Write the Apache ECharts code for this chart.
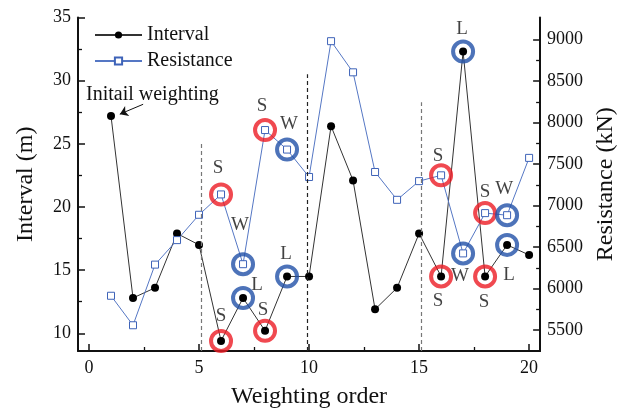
<!DOCTYPE html>
<html>
<head>
<meta charset="utf-8">
<script src="https://cdn.jsdelivr.net/npm/echarts@6/dist/echarts.min.js"></script>
<style>
  html, body { margin: 0; padding: 0; background: #fff; }
  #chart { width: 626px; height: 414px; }
</style>
</head>
<body>
<div id="chart"></div>
<script>
// weighting order 1..20
const orders = [1, 2, 3, 4, 5, 6, 7, 8, 9, 10, 11, 12, 13, 14, 15, 16, 17, 18, 19, 20];
const interval = [27.2, 12.8, 13.6, 17.9, 17.0, 9.4, 12.8, 10.2, 14.5, 14.5, 26.4, 22.1, 11.9, 13.6, 17.9, 14.5, 32.3, 14.5, 17.0, 16.2];
const resistance = [5915, 5560, 6290, 6585, 6890, 7135, 6295, 7910, 7675, 7345, 8980, 8605, 7405, 7070, 7295, 7365, 6425, 6910, 6885, 7575];

const xTicks = [0, 5, 10, 15, 20];
const xMinor = [2.5, 7.5, 12.5, 17.5];
const leftTicks = [10, 15, 20, 25, 30, 35];
const leftMinor = [12.5, 17.5, 22.5, 27.5, 32.5];
const rightTicks = [5500, 6000, 6500, 7000, 7500, 8000, 8500, 9000];
const rightMinor = [5750, 6250, 6750, 7250, 7750, 8250, 8750];

// circled points: [series, order, letter]
const tags = [
  ['res', 6, 'S'], ['int', 6, 'S'], ['res', 7, 'W'], ['int', 7, 'L'],
  ['int', 8, 'S'], ['res', 8, 'S'], ['int', 9, 'L'], ['res', 9, 'W'],
  ['res', 16, 'S'], ['int', 16, 'S'], ['res', 17, 'W'], ['int', 17, 'L'],
  ['int', 18, 'S'], ['res', 18, 'S'], ['res', 19, 'W'], ['int', 19, 'L']
];
// where each letter sits relative to its circle (px)
const tagOffsets = [
  [-3, -26], [0, -25], [-3, -39], [14, -13],
  [-2, -21], [-3, -24], [-1, -22], [2, -26],
  [-3, -19], [-3, 25], [-3, 23], [-1, -23],
  [-1, 26], [0, -21], [-3, -26], [2, 30]
];

const FONT = '"Liberation Serif", "Times New Roman", serif';
const RED = '#ec1c24';
const BLUE = '#2150a8';

function circleData(which, letter) {
  const out = [];
  tags.forEach((t, i) => {
    if (t[0] !== which) return;
    const isRed = t[2] === 'S';
    if ((letter === 'red') !== isRed) return;
    const arr = which === 'int' ? interval : resistance;
    out.push({
      value: [t[1], arr[t[1] - 1]],
      label: { formatter: t[2], offset: tagOffsets[i] }
    });
  });
  return out;
}

function circleSeries(which, color, yIdx) {
  return {
    type: 'scatter',
    yAxisIndex: yIdx,
    symbol: 'circle',
    symbolSize: 20,
    z: 5,
    silent: true,
    itemStyle: { color: 'rgba(0,0,0,0)', borderColor: color === 'red' ? RED : BLUE, borderWidth: 4 },
    label: { show: true, position: 'inside', color: '#111', fontFamily: FONT, fontSize: 19 },
    data: circleData(which, color)
  };
}

function mainLine() {
  return { show: true, onZero: false, lineStyle: { color: '#111', width: 2 } };
}
function plainNum(v) { return String(v); }

const chart = echarts.init(document.getElementById('chart'));

const option = {
  animation: false,
  grid: { left: 78, right: 84, top: 17.5, bottom: 56.5 },
  legend: {
    orient: 'vertical',
    left: 89,
    top: 20,
    itemWidth: 47,
    itemHeight: 9,
    itemGap: 6,
    data: ['Interval', 'Resistance'],
    textStyle: { fontFamily: FONT, fontSize: 20, color: '#111' }
  },
  xAxis: [
    {
      type: 'value', min: -0.5, max: 20.5, position: 'bottom',
      name: 'Weighting order', nameLocation: 'middle', nameGap: 34,
      nameTextStyle: { fontFamily: FONT, fontSize: 24, color: '#111', verticalAlign: 'top' },
      axisLine: mainLine(),
      axisTick: { show: true, inside: true, length: 7, customValues: xTicks, lineStyle: { color: '#111', width: 1.5 } },
      axisLabel: { customValues: xTicks, fontFamily: FONT, fontSize: 18, color: '#111', margin: 8, formatter: plainNum },
      splitLine: { show: false }
    },
    {
      type: 'value', min: -0.5, max: 20.5, position: 'bottom',
      axisLine: { show: false, onZero: false },
      axisTick: { show: true, inside: true, length: 4, customValues: xMinor, lineStyle: { color: '#111', width: 1.3 } },
      axisLabel: { show: false, customValues: xMinor },
      splitLine: { show: false }
    }
  ],
  yAxis: [
    {
      type: 'value', min: 8.6, max: 35, position: 'left',
      name: 'Interval (m)', nameLocation: 'middle', nameGap: 40,
      nameTextStyle: { fontFamily: FONT, fontSize: 24, color: '#111' },
      axisLine: mainLine(),
      axisTick: { show: true, inside: true, length: 7, customValues: leftTicks, lineStyle: { color: '#111', width: 1.5 } },
      axisLabel: { customValues: leftTicks, fontFamily: FONT, fontSize: 18, color: '#111', margin: 7, formatter: plainNum },
      splitLine: { show: false }
    },
    {
      type: 'value', min: 5250, max: 9265, position: 'right',
      name: 'Resistance (kN)', nameLocation: 'middle', nameGap: 53,
      nameTextStyle: { fontFamily: FONT, fontSize: 24, color: '#111' },
      axisLine: mainLine(),
      axisTick: { show: true, inside: true, length: 7, customValues: rightTicks, lineStyle: { color: '#111', width: 1.5 } },
      axisLabel: { customValues: rightTicks, fontFamily: FONT, fontSize: 18, color: '#111', margin: 7, formatter: plainNum },
      splitLine: { show: false }
    },
    {
      type: 'value', min: 8.6, max: 35, position: 'left',
      axisLine: { show: false, onZero: false },
      axisTick: { show: true, inside: true, length: 4, customValues: leftMinor, lineStyle: { color: '#111', width: 1.3 } },
      axisLabel: { show: false, customValues: leftMinor },
      splitLine: { show: false }
    },
    {
      type: 'value', min: 5250, max: 9265, position: 'right',
      axisLine: { show: false, onZero: false },
      axisTick: { show: true, inside: true, length: 4, customValues: rightMinor, lineStyle: { color: '#111', width: 1.3 } },
      axisLabel: { show: false, customValues: rightMinor },
      splitLine: { show: false }
    }
  ],
  graphic: [
    {
      type: 'text', x: 86, y: 95, z: 10,
      style: { text: 'Initail weighting', font: '20px "Liberation Serif", serif', fill: '#111', verticalAlign: 'middle' }
    }
  ],
  series: [
    {
      name: 'Interval',
      type: 'line',
      yAxisIndex: 0,
      data: orders.map((o, i) => [o, interval[i]]),
      symbol: 'circle',
      symbolSize: 8,
      lineStyle: { color: '#333', width: 1 },
      itemStyle: { color: '#000' },
      z: 3,
      markLine: {
        silent: true,
        symbol: ['none', 'none'],
        label: { show: false },
        data: [
          [{ coord: [5.1, 8.6], lineStyle: { color: '#777' } }, { coord: [5.1, 25] }],
          [{ coord: [9.9, 8.6], lineStyle: { color: '#222' } }, { coord: [9.9, 30.5] }],
          [{ coord: [15.1, 8.6], lineStyle: { color: '#777' } }, { coord: [15.1, 28.3] }]
        ],
        lineStyle: { type: [4, 3], width: 1.2 }
      }
    },
    {
      name: 'Resistance',
      type: 'line',
      yAxisIndex: 1,
      data: orders.map((o, i) => [o, resistance[i]]),
      symbol: 'rect',
      symbolSize: 7,
      lineStyle: { color: '#5577c4', width: 1 },
      itemStyle: { color: '#fff', borderColor: '#3e63b8', borderWidth: 1 },
      z: 3
    },
    Object.assign(circleSeries('int', 'red', 0), {
      markLine: {
        silent: true,
        symbol: ['none', 'arrow'],
        symbolSize: 8,
        label: { show: false },
        lineStyle: { color: '#111', width: 1, type: 'solid' },
        data: [[{ coord: [2.46, 28.13] }, { coord: [1.4, 27.35] }]]
      }
    }),
    circleSeries('int', 'blue', 0),
    circleSeries('res', 'red', 1),
    circleSeries('res', 'blue', 1)
  ]
};

chart.setOption(option);
</script>
</body>
</html>
